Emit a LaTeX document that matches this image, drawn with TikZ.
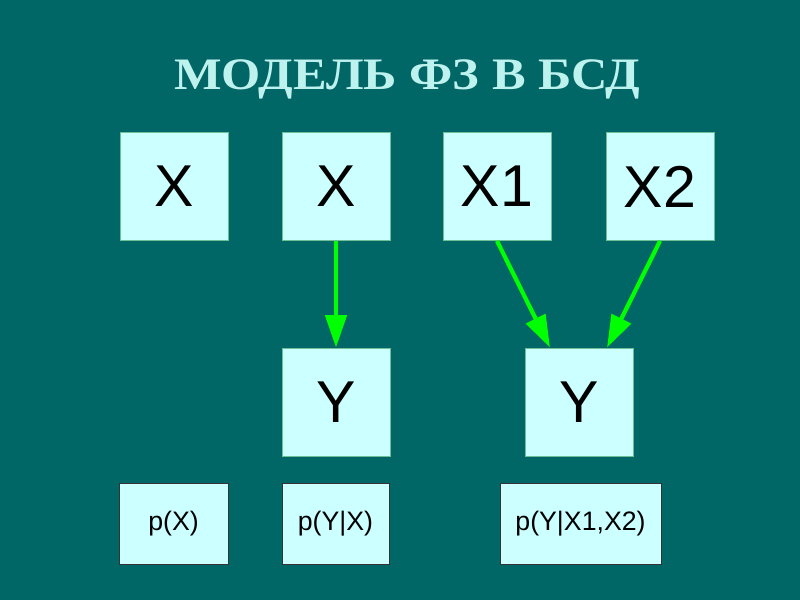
\documentclass[tikz,border=0pt]{standalone}
\usepackage{fontspec}
\setmainfont{Liberation Serif}
\newfontfamily\arialfont{Liberation Sans}
\usetikzlibrary{arrows.meta, positioning}
\definecolor{slidebg}{RGB}{0,102,102}
\definecolor{titlecyan}{RGB}{190,242,238}
\definecolor{boxcyan}{RGB}{204,255,255}
\definecolor{arrowgreen}{RGB}{0,255,0}
\definecolor{edgegreen}{RGB}{110,190,150}

\begin{document}
\begin{tikzpicture}[x=0.025cm, y=-0.025cm,
    var/.style={draw=edgegreen, fill=boxcyan, line width=0.6pt, minimum width=2.7cm, minimum height=2.7cm, inner sep=0pt, font=\arialfont\fontsize{42}{42}\selectfont},
    prob/.style={draw=black!80, fill=boxcyan, line width=0.6pt, minimum height=2.025cm, inner sep=0pt, font=\arialfont\fontsize{19}{19}\selectfont},
    link/.style={draw=arrowgreen, line width=3pt, -{Triangle[length=23pt, width=15pt]}}]
    % фон слайда
    \fill[slidebg] (0,0) rectangle (800,600);
    \node[titlecyan, font=\bfseries\fontsize{32}{32}\selectfont] (title) at (407,79) {\scalebox{1.12}[1]{МОДЕЛЬ ФЗ В БСД}};

    % верхний ряд
    \foreach \n/\x/\t in {xa/174/X, xb/336/X, xc/497/X1, xd/660/X2} {
        \node[var] (\n) at (\x,186.5) {\t};
    }

    % средний ряд
    \node[var] (ya) at (336,402) {Y};
    \node[var] (yb) at (579,402) {Y};

    % нижний ряд
    \node[prob, minimum width=2.725cm] (pa) at (173.5,523.5) {p(X)};
    \node[prob, minimum width=2.675cm] (pb) at (335.5,523.5) {p(Y|X)};
    \node[prob, minimum width=4.025cm] (pc) at (580.5,523.5) {p(Y|X1,X2)};

    % связи
    \draw[link] (xb.south) -- (ya.north);
    \draw[link] (xc.south) -- ([xshift=-0.725cm]yb.north);
    \draw[link] (xd.south) -- ([xshift=0.7cm]yb.north);
\end{tikzpicture}
\end{document}
